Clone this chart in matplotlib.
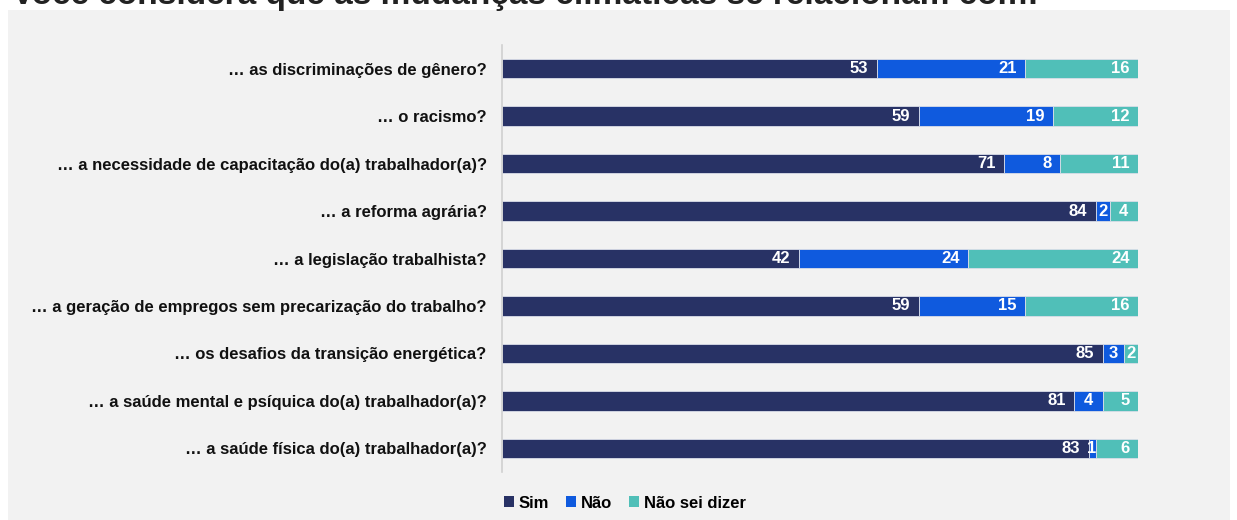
import numpy as np
import matplotlib.pyplot as plt
from matplotlib.patches import Rectangle

plt.rcParams['font.family'] = ['Liberation Sans', 'DejaVu Sans']

# categorias e valores (%)
perguntas = [
    "… as discriminações de gênero?",
    "… o racismo?",
    "… a necessidade de capacitação do(a) trabalhador(a)?",
    "… a reforma agrária?",
    "… a legislação trabalhista?",
    "… a geração de empregos sem precarização do trabalho?",
    "… os desafios da transição energética?",
    "… a saúde mental e psíquica do(a) trabalhador(a)?",
    "… a saúde física do(a) trabalhador(a)?",
]
sim = [53, 59, 71, 84, 42, 59, 85, 81, 83]
nao = [21, 19, 8, 2, 24, 15, 3, 4, 1]
nao_sei = [16, 12, 11, 4, 24, 16, 2, 5, 6]
series = ["Sim", "Não", "Não sei dizer"]
cores = ["#283265", "#0f5ade", "#50bfb8"]

fig = plt.figure(figsize=(12.37, 5.2), dpi=100)
W, H = 1237, 520

# painel cinza de fundo
fig.patches.append(Rectangle((8 / W, 0), (1230 - 8) / W, (520 - 10) / H,
                             transform=fig.transFigure, facecolor="#f2f2f2",
                             edgecolor="none", zorder=-5))

# titulo cortado no topo
fig.text(12 / W, 1 - 4 / H,
         "Você considera que as mudanças climáticas se relacionam com:",
         fontsize=24, fontweight="bold", color="#222222", va="baseline", ha="left")

ax = fig.add_axes([502 / W, 1 - 472 / H, (1138 - 502) / W, (472 - 45) / H])
ax.set_facecolor("none")
ax.set_zorder(2)

y = np.arange(len(perguntas))
dados = [sim, nao, nao_sei]
esq = np.zeros(len(perguntas))
for vals, nome, cor in zip(dados, series, cores):
    vals = np.array(vals)
    ax.barh(y, vals, left=esq, height=0.41, color=cor, label=nome,
            edgecolor="#d9dde8", linewidth=0.6)
    for yi, l, v in zip(y, esq, vals):
        if v >= 5:
            ax.text(l + v - 1.2, yi, str(v), ha="right", va="center",
                    color="white", fontweight="bold", fontsize=12)
        else:
            ax.text(l + v / 2, yi, str(v), ha="center", va="center",
                    color="white", fontweight="bold", fontsize=12)
    esq = esq + vals

ax.set_xlim(0, 90)
ax.set_ylim(len(perguntas) - 0.5, -0.5)
ax.set_xticks([])
ax.set_yticks(y)
ax.set_yticklabels(perguntas, fontsize=12, fontweight="bold", color="#111111")
ax.tick_params(axis="y", length=0, pad=11)
for s in ["top", "right", "bottom"]:
    ax.spines[s].set_visible(False)
ax.spines["left"].set_color("#d0d0d0")
ax.spines["left"].set_linewidth(1.2)

handles, labels = ax.get_legend_handles_labels()
leg = fig.legend(handles, labels, loc="center", bbox_to_anchor=(625 / W, 1 - 503 / H),
                 ncol=3, frameon=False, handlelength=0.6, handleheight=0.6,
                 handletextpad=0.3, columnspacing=1.0,
                 prop={"weight": "bold", "size": 12})
for h in leg.legend_handles:
    h.set_edgecolor("none")

fig.savefig("out.png", dpi=100)
